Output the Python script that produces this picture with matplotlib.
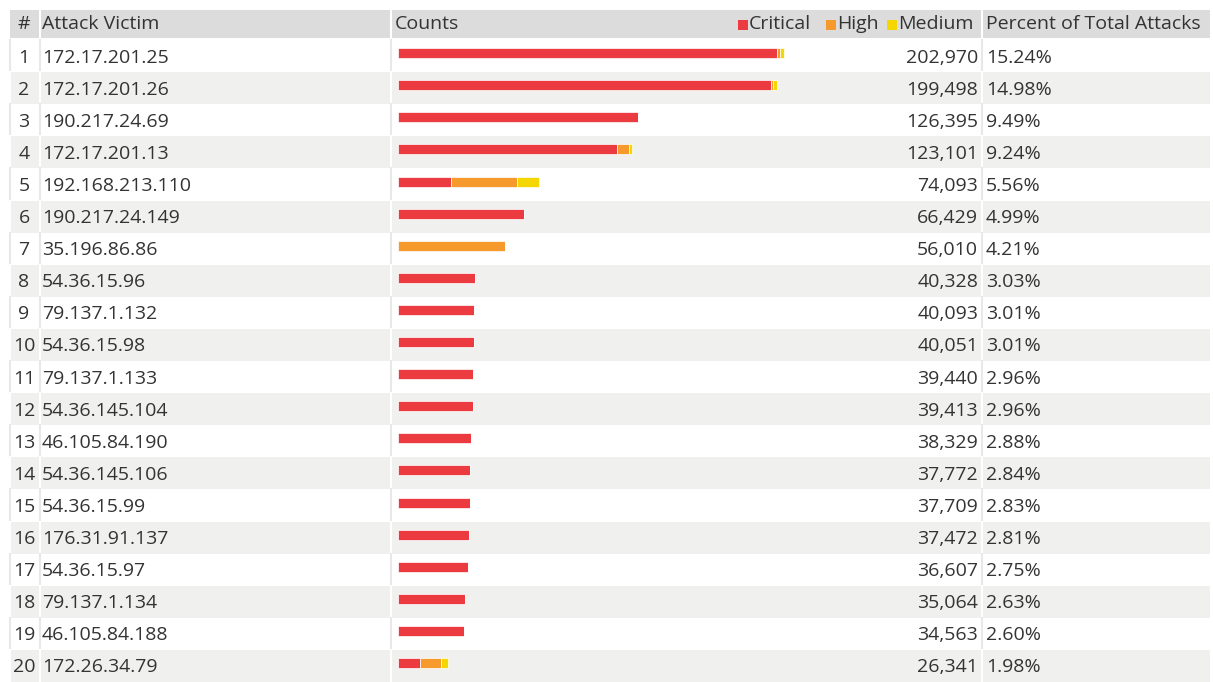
import matplotlib.pyplot as plt
from matplotlib.patches import Rectangle

plt.rcParams['font.family'] = ['Open Sans', 'DejaVu Sans']

victims = ['172.17.201.25', '172.17.201.26', '190.217.24.69', '172.17.201.13',
           '192.168.213.110', '190.217.24.149', '35.196.86.86', '54.36.15.96',
           '79.137.1.132', '54.36.15.98', '79.137.1.133', '54.36.145.104',
           '46.105.84.190', '54.36.145.106', '54.36.15.99', '176.31.91.137',
           '54.36.15.97', '79.137.1.134', '46.105.84.188', '172.26.34.79']
critical = [199070, 196398, 126395, 115300, 28000, 66429, 0, 40328,
            40093, 40051, 39440, 39413, 38329, 37772, 37709, 37472,
            36607, 35064, 34563, 11830]
high = [1700, 900, 0, 6100, 34800, 0, 56010, 0,
        0, 0, 0, 0, 0, 0, 0, 0,
        0, 0, 0, 10840]
medium = [2200, 2200, 0, 1701, 11293, 0, 0, 0,
          0, 0, 0, 0, 0, 0, 0, 0,
          0, 0, 0, 3671]
percent = [15.24, 14.98, 9.49, 9.24, 5.56, 4.99, 4.21, 3.03, 3.01, 3.01,
           2.96, 2.96, 2.88, 2.84, 2.83, 2.81, 2.75, 2.63, 2.60, 1.98]

c_crit = '#ec3b40'
c_high = '#f79a2e'
c_med = '#f4d600'
txt = '#333333'
hdr_bg = '#dcdcdc'
alt_bg = '#f0f0ee'
fs = 14

W, H = 1213, 682
top0 = 40
rh = 32.1
n = len(victims)

fig = plt.figure(figsize=(W / 100, H / 100), dpi=100)
bg = fig.add_axes([0, 0, 1, 1])
bg.set_xlim(0, W)
bg.set_ylim(H, 0)
bg.axis('off')

# header
bg.add_patch(Rectangle((10, 10), 1200, 28, color=hdr_bg, lw=0))
for xs in [40, 391, 982]:
    bg.plot([xs, xs], [10, 38], color='white', lw=1.5)
bg.text(24, 24, '#', ha='center', va='center', fontsize=fs, color=txt)
bg.text(42, 24, 'Attack Victim', ha='left', va='center', fontsize=fs, color=txt)
bg.text(395, 24, 'Counts', ha='left', va='center', fontsize=fs, color=txt)
bg.text(986, 24, 'Percent of Total Attacks', ha='left', va='center', fontsize=fs, color=txt)

# legend in header
for lx, name, col in [(738, 'Critical', c_crit), (826, 'High', c_high), (887, 'Medium', c_med)]:
    bg.add_patch(Rectangle((lx, 20), 10, 10, color=col, lw=0))
    bg.text(lx + 11, 24, name, ha='left', va='center', fontsize=fs, color=txt)

# rows
for i in range(n):
    top = top0 + i * rh
    cy = top + rh / 2 + 1.5
    shade = i % 2 == 1
    if shade:
        bg.add_patch(Rectangle((10, top), 1200, rh, color=alt_bg, lw=0))
    sep = 'white' if shade else '#e8e8e8'
    for xs in [10, 40, 391, 982]:
        bg.plot([xs, xs], [top, top + rh], color=sep, lw=1.5)
    total = critical[i] + high[i] + medium[i]
    bg.text(24, cy, str(i + 1), ha='center', va='center', fontsize=fs, color=txt)
    bg.text(42, cy, victims[i], ha='left', va='center', fontsize=fs, color=txt)
    bg.text(978, cy, f'{total:,}', ha='right', va='center', fontsize=fs, color=txt)
    bg.text(986, cy, f'{percent[i]:.2f}%', ha='left', va='center', fontsize=fs, color=txt)

# bars
ax = fig.add_axes([398 / W, 0, 580 / W, (n * rh) / H])
ax.patch.set_alpha(0)
ax.set_xlim(0, 580 / 0.0019017)
ax.set_ylim(n - 0.5, -0.5)
ax.axis('off')
ypos = [i - 0.09 for i in range(n)]
left_h = critical
left_m = [c + h for c, h in zip(critical, high)]
ax.barh(ypos, critical, height=0.31, color=c_crit, edgecolor='white', linewidth=0.5)
ax.barh(ypos, high, left=left_h, height=0.31, color=c_high, edgecolor='white', linewidth=0.5)
ax.barh(ypos, medium, left=left_m, height=0.31, color=c_med, edgecolor='white', linewidth=0.5)

fig.savefig('out.png', dpi=100)
